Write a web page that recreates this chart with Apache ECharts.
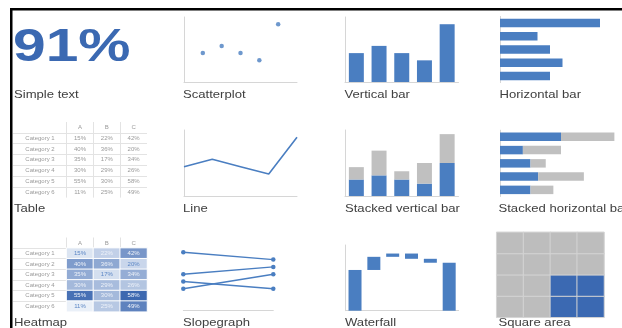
<!DOCTYPE html>
<html>
<head>
<meta charset="utf-8">
<script src="https://cdn.jsdelivr.net/npm/echarts@6/dist/echarts.min.js"></script>
<style>
  html, body { margin: 0; padding: 0; background: #ffffff; }
  #chart { width: 622px; height: 328px; }
</style>
</head>
<body>
<div id="chart"></div>
<script>
// ---- data ----
const headline = '91%';
const trendCats = ['1', '2', '3', '4', '5'];
const trendValues = [2, 2.5, 2, 1.5, 4];
const stackExtra = [1.5, 3, 1, 2.5, 3.5];
const tableRows = ['Category 1', 'Category 2', 'Category 3', 'Category 4', 'Category 5', 'Category 6'];
const tableCols = ['A', 'B', 'C'];
const colA = [15, 40, 35, 30, 55, 11];
const colB = [22, 36, 17, 29, 30, 25];
const colC = [42, 20, 34, 26, 58, 49];
const slopeCats = ['Before', 'After'];
const slopeStart = [4, 2.5, 2, 1.5];
const slopeEnd = [3.5, 3, 1.5, 2.5];
const waterfallCats = ['Start', 'Step 1', 'Step 2', 'Step 3', 'Step 4', 'End'];
const waterfallSteps = [31, 10, 2.5, -4, -3];
const squareCols = ['c1', 'c2', 'c3', 'c4'];
const squareRows = ['r1', 'r2', 'r3', 'r4'];
const squareFilled = [[2, 0], [3, 0], [2, 1], [3, 1]];
const panelTitles = [
  ['Simple text', 'Scatterplot', 'Vertical bar', 'Horizontal bar'],
  ['Table', 'Line', 'Stacked vertical bar', 'Stacked horizontal bar'],
  ['Heatmap', 'Slopegraph', 'Waterfall', 'Square area']
];

// ---- styles ----
const BLUE = '#4a7ec1';
const DARK_BLUE = '#3b69b2';
const GRAY = '#c0c0c0';
const AXIS = '#d6d6d6';
const RULE = '#e3e3e3';
const FONT = '"Liberation Sans", Arial, sans-serif';

const grids = [], xAxes = [], yAxes = [], series = [];

function addGrid(box) {
  grids.push(Object.assign({ containLabel: false }, box));
  return grids.length - 1;
}
function valueAxis(gridIndex, max, showLine) {
  return {
    type: 'value', gridIndex, min: 0, max,
    axisLine: { show: showLine, onZero: false, lineStyle: { color: AXIS, width: 1 } },
    axisTick: { show: false }, axisLabel: { show: false }, splitLine: { show: false }
  };
}
function categoryAxis(gridIndex, data, showLine, boundaryGap) {
  return {
    type: 'category', gridIndex, data, boundaryGap,
    axisLine: { show: showLine, onZero: false, lineStyle: { color: AXIS, width: 1 } },
    axisTick: { show: false }, axisLabel: { show: false }, splitLine: { show: false }
  };
}

// Scatterplot
const gScatter = addGrid({ left: 184, top: 17, width: 113, height: 65 });
xAxes.push(Object.assign(valueAxis(gScatter, 6, true), { max: 6 }));
yAxes.push(valueAxis(gScatter, 4.5, true));
series.push({
  type: 'scatter', xAxisIndex: xAxes.length - 1, yAxisIndex: yAxes.length - 1,
  symbolSize: 4.5, itemStyle: { color: BLUE },
  data: trendValues.map((v, i) => [i + 1, v])
});

// Vertical bar
const gVBar = addGrid({ left: 345, top: 17, width: 113.5, height: 65 });
xAxes.push(categoryAxis(gVBar, trendCats, true, true));
yAxes.push(valueAxis(gVBar, 4.5, true));
series.push({
  type: 'bar', xAxisIndex: xAxes.length - 1, yAxisIndex: yAxes.length - 1,
  barWidth: '66%', itemStyle: { color: BLUE }, data: trendValues
});

// Horizontal bar
const gHBar = addGrid({ left: 500, top: 16.4, width: 112.5, height: 66.2 });
xAxes.push(valueAxis(gHBar, 4.5, false));
yAxes.push(categoryAxis(gHBar, trendCats, true, true));
series.push({
  type: 'bar', xAxisIndex: xAxes.length - 1, yAxisIndex: yAxes.length - 1,
  barWidth: '64%', itemStyle: { color: BLUE }, data: trendValues
});

// Line
const gLine = addGrid({ left: 184, top: 130, width: 113, height: 66 });
xAxes.push(categoryAxis(gLine, trendCats, true, false));
yAxes.push(valueAxis(gLine, 4.5, true));
series.push({
  type: 'line', xAxisIndex: xAxes.length - 1, yAxisIndex: yAxes.length - 1,
  showSymbol: false, lineStyle: { color: BLUE, width: 1.6 }, data: trendValues
});

// Stacked vertical bar
const gSVBar = addGrid({ left: 345, top: 130, width: 113.5, height: 66 });
xAxes.push(categoryAxis(gSVBar, trendCats, true, true));
yAxes.push(valueAxis(gSVBar, 8, true));
[[trendValues, BLUE], [stackExtra, GRAY]].forEach(([vals, color]) => {
  series.push({
    type: 'bar', stack: 'sv', xAxisIndex: xAxes.length - 1, yAxisIndex: yAxes.length - 1,
    barWidth: '66%', itemStyle: { color }, data: vals
  });
});

// Stacked horizontal bar
const gSHBar = addGrid({ left: 500, top: 130.2, width: 126.4, height: 66.3 });
xAxes.push(valueAxis(gSHBar, 8, false));
yAxes.push(categoryAxis(gSHBar, trendCats, true, true));
[[trendValues, BLUE], [stackExtra, GRAY]].forEach(([vals, color]) => {
  series.push({
    type: 'bar', stack: 'sh', xAxisIndex: xAxes.length - 1, yAxisIndex: yAxes.length - 1,
    barWidth: '64%', itemStyle: { color }, data: vals
  });
});

// Table and heatmap share the same layout: two label columns + A/B/C, header row + 6 rows
const tableValues = [colA, colB, colC];
function tableAxes(gridIndex) {
  xAxes.push({
    type: 'category', gridIndex, position: 'top',
    data: ['', ' '].concat(tableCols),
    axisLine: { show: false }, axisTick: { show: false },
    axisLabel: { show: true, inside: true, margin: 2.5, fontSize: 6, color: '#9a9a9a', fontFamily: FONT },
    splitLine: { show: true, interval: (i) => i >= 2, showMaxLine: false, lineStyle: { color: RULE, width: 1 } }
  });
  yAxes.push({
    type: 'category', gridIndex, inverse: true,
    data: [''].concat(tableRows),
    axisLine: { show: false }, axisTick: { show: false },
    axisLabel: { show: true, inside: true, margin: 27, align: 'center', fontSize: 6, color: '#9a9a9a', fontFamily: FONT },
    splitLine: { show: true, showMinLine: false, showMaxLine: false, lineStyle: { color: RULE, width: 1 } }
  });
}
function tableCells(labelColor) {
  const out = [];
  tableRows.forEach((r, ri) => {
    tableCols.forEach((c, ci) => {
      const v = tableValues[ci][ri];
      const item = { value: [ci + 2, ri + 1, v] };
      if (labelColor) item.label = { color: labelColor(v) };
      out.push(item);
    });
  });
  return out;
}

const gTable = addGrid({ left: 13, top: 122, width: 134, height: 75.6 });
tableAxes(gTable);
series.push({
  type: 'heatmap', xAxisIndex: xAxes.length - 1, yAxisIndex: yAxes.length - 1,
  itemStyle: { color: 'rgba(255,255,255,0)' },
  label: { show: true, fontSize: 6, color: '#9a9a9a', fontFamily: FONT, formatter: (p) => p.value[2] + '%' },
  data: tableCells(null)
});

const gHeat = addGrid({ left: 13, top: 237.5, width: 134, height: 74.2 });
tableAxes(gHeat);
series.push({
  type: 'heatmap', xAxisIndex: xAxes.length - 1, yAxisIndex: yAxes.length - 1,
  itemStyle: { borderColor: '#ffffff', borderWidth: 1 },
  label: { show: true, fontSize: 6, fontFamily: FONT, formatter: (p) => p.value[2] + '%' },
  data: tableCells((v) => (v <= 20 ? '#5b86c5' : '#eef2f9'))
});
const heatSeriesIndex = series.length - 1;

// Slopegraph
const gSlope = addGrid({ left: 183.3, top: 245, width: 90, height: 65.7 });
xAxes.push(categoryAxis(gSlope, slopeCats, true, false));
yAxes.push(valueAxis(gSlope, 4.5, false));
slopeStart.forEach((s, i) => {
  series.push({
    type: 'line', xAxisIndex: xAxes.length - 1, yAxisIndex: yAxes.length - 1,
    symbol: 'circle', symbolSize: 4.5, itemStyle: { color: BLUE },
    lineStyle: { color: BLUE, width: 1.4 }, data: [s, slopeEnd[i]]
  });
});

// Waterfall
const gWater = addGrid({ left: 345.6, top: 245, width: 113, height: 65.7 });
xAxes.push(categoryAxis(gWater, waterfallCats, true, true));
yAxes.push(valueAxis(gWater, 50, true));
const wfBase = [], wfSize = [];
let running = 0;
waterfallSteps.forEach((step, i) => {
  if (i === 0) { wfBase.push(0); wfSize.push(step); }
  else if (step >= 0) { wfBase.push(running); wfSize.push(step); }
  else { wfBase.push(running + step); wfSize.push(-step); }
  running += step;
});
wfBase.push(0); wfSize.push(running);
series.push({
  type: 'bar', stack: 'wf', xAxisIndex: xAxes.length - 1, yAxisIndex: yAxes.length - 1,
  barWidth: '69%', itemStyle: { color: 'rgba(0,0,0,0)' }, data: wfBase
});
series.push({
  type: 'bar', stack: 'wf', xAxisIndex: xAxes.length - 1, yAxisIndex: yAxes.length - 1,
  barWidth: '69%', itemStyle: { color: BLUE }, data: wfSize
});

// Square area
const gSquare = addGrid({ left: 496.7, top: 232.3, width: 107.3, height: 85 });
xAxes.push(categoryAxis(gSquare, squareCols, false, true));
yAxes.push(categoryAxis(gSquare, squareRows, false, true));
const squareData = [];
squareCols.forEach((c, xi) => {
  squareRows.forEach((r, yi) => {
    const on = squareFilled.some(([fx, fy]) => fx === xi && fy === yi);
    squareData.push({ value: [xi, yi, on ? 1 : 0], itemStyle: { color: on ? DARK_BLUE : '#bdbdbd' } });
  });
});
series.push({
  type: 'heatmap', xAxisIndex: xAxes.length - 1, yAxisIndex: yAxes.length - 1,
  itemStyle: { borderColor: '#d4d4d4', borderWidth: 1 }, data: squareData
});

// ---- text and frame ----
const titleX = [[14, 183, 344.5, 499.5], [14, 183, 345, 498.5], [14, 183, 345, 498.5]];
const titleY = [95, 208.5, 322.8];
const graphics = [
  { type: 'rect', shape: { x: 10, y: 8, width: 612, height: 2.5 }, style: { fill: '#000' } },
  { type: 'rect', shape: { x: 10, y: 8, width: 2.5, height: 320 }, style: { fill: '#000' } },
  {
    type: 'text', x: 13, y: 48.5, scaleX: 1.25,
    style: { text: headline, font: 'bold 47px ' + FONT, fill: DARK_BLUE, verticalAlign: 'middle' }
  }
];
panelTitles.forEach((row, ri) => {
  row.forEach((t, ci) => {
    graphics.push({
      type: 'text', x: titleX[ri][ci], y: titleY[ri], scaleX: 1.19,
      style: { text: t, font: '11px ' + FONT, fill: '#404040', verticalAlign: 'middle' }
    });
  });
});

const chart = echarts.init(document.getElementById('chart'), null, { renderer: 'canvas' });
chart.setOption({
  animation: false,
  backgroundColor: '#ffffff',
  grid: grids,
  xAxis: xAxes,
  yAxis: yAxes,
  visualMap: [{
    type: 'continuous', show: false, seriesIndex: heatSeriesIndex, dimension: 2,
    min: 10, max: 60, inRange: { color: ['#eef3fa', '#3562ad'] }
  }],
  graphic: { elements: graphics.map((g) => Object.assign({ z: 100 }, g)) },
  series
});
</script>
</body>
</html>
